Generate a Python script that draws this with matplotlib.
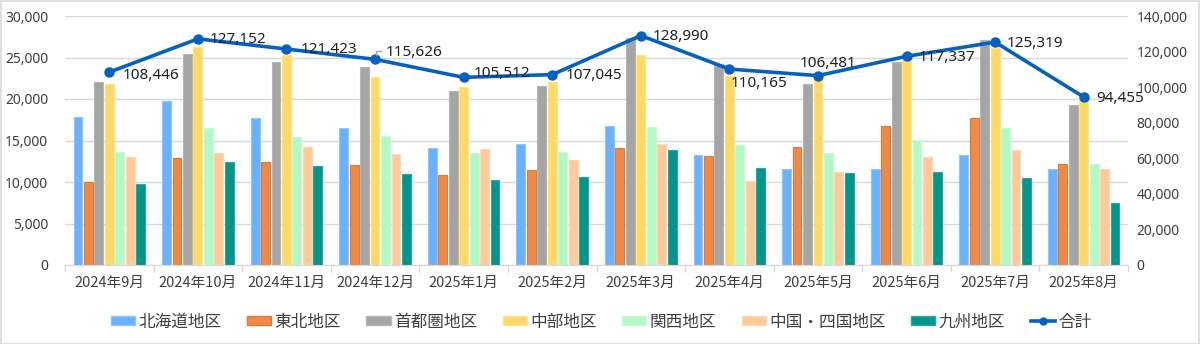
import matplotlib
matplotlib.use('Agg')
import matplotlib.pyplot as plt
import numpy as np
from matplotlib.ticker import FuncFormatter, FixedLocator
from matplotlib.patches import Patch, Rectangle
from matplotlib.lines import Line2D

months = ['2024年9月', '2024年10月', '2024年11月', '2024年12月', '2025年1月', '2025年2月',
          '2025年3月', '2025年4月', '2025年5月', '2025年6月', '2025年7月', '2025年8月']
series_names = ['北海道地区', '東北地区', '首都圏地区', '中部地区', '関西地区', '中国・四国地区', '九州地区']
total_name = '合計'

hokkaido = [17800, 19800, 17750, 16500, 14100, 14600, 16750, 13300, 11600, 11600, 13250, 11600]
tohoku   = [10000, 12900, 12450, 12100, 10800, 11500, 14100, 13150, 14250, 16750, 17750, 12200]
shutoken = [22100, 25450, 24400, 23900, 20950, 21550, 27350, 24200, 21750, 24500, 27150, 19250]
chubu    = [21850, 26300, 25350, 22700, 21500, 22050, 25250, 22750, 22600, 24900, 26100, 20050]
kansai   = [13650, 16450, 15400, 15600, 13500, 13600, 16650, 14500, 13500, 15100, 16450, 12200]
chushi   = [13000, 13550, 14200, 13400, 14000, 12700, 14600, 10150, 11250, 13000, 13850, 11600]
kyushu   = [9700, 12350, 11950, 11000, 10300, 10650, 13800, 11700, 11100, 11200, 10500, 7450]
totals   = [108446, 127152, 121423, 115626, 105512, 107045, 128990, 110165, 106481, 117337, 125319, 94455]

colors = ['#6AB2FF', '#EE8A45', '#A5A5A5', '#FFD966', '#B2F9C3', '#FFCA99', '#00968C']
edge_colors = ['#8EC5FF', '#E27A30', '#B5B5B5', '#FFE38A', '#C6FBD3', '#FFD7B3', '#2AA89F']
line_color = '#0660C0'

plt.rcParams['font.family'] = ['Noto Sans CJK JP', 'DejaVu Sans']

W, H = 1200, 344
fig = plt.figure(figsize=(W / 100, H / 100), dpi=100)
ax = fig.add_axes([65 / W, 79 / H, 1063 / W, 249 / H])
ax2 = ax.twinx()

x = np.arange(len(months))
step = 0.118
width = 0.1
all_series = [hokkaido, tohoku, shutoken, chubu, kansai, chushi, kyushu]
for i, vals in enumerate(all_series):
    ax.bar(x + (i - 3) * step, vals, width, color=colors[i], edgecolor=edge_colors[i],
           linewidth=0.8, zorder=2)

ax.set_xlim(-0.5, len(months) - 0.5)
ax.set_ylim(0, 30000)
ax.set_yticks(range(0, 30001, 5000))
fmt = FuncFormatter(lambda v, p: f'{int(v):,}')
ax.yaxis.set_major_formatter(fmt)
ax.grid(axis='y', color='#D9D9D9', lw=1, zorder=0)
ax.set_axisbelow(True)
ax.set_xticks(x)
ax.set_xticklabels(months)
ax.xaxis.set_minor_locator(FixedLocator(np.arange(-0.5, len(months), 1.0)))
ax.tick_params(axis='x', which='major', length=0, pad=8, labelsize=10.5, labelcolor='#404040')
ax.tick_params(axis='x', which='minor', length=5, color='#D9D9D9', width=1)
ax.tick_params(axis='y', length=0, pad=12, labelsize=10, labelcolor='#404040')
for s in ['top', 'left', 'right']:
    ax.spines[s].set_visible(False)
ax.spines['bottom'].set_color('#D9D9D9')

ax2.plot(x, totals, color=line_color, lw=2.6, marker='o', ms=6.5, zorder=5)
ax2.set_ylim(0, 140000)
ax2.set_yticks(range(0, 140001, 20000))
ax2.yaxis.set_major_formatter(fmt)
ax2.tick_params(axis='y', length=0, pad=6, labelsize=10, labelcolor='#404040')
for s in ['top', 'left', 'right', 'bottom']:
    ax2.spines[s].set_visible(False)

for lab in ax.get_yticklabels() + ax2.get_yticklabels():
    lab.set_family(['Noto Sans', 'DejaVu Sans'])

# data label offsets in pixels (dx to text left, dy to text center; up positive)
offsets = [(13, -3), (12, -1), (14, 0), (11, 7), (10, 4), (13, -1),
           (12, -1), (1, -14), (-18, 12), (12, -1), (12, -1), (13, -1)]
for xi, (t, (dx, dy)) in enumerate(zip(totals, offsets)):
    ax2.annotate(f'{t:,}', (xi, t), xytext=(dx, dy), textcoords='offset pixels',
                 ha='left', va='center', fontsize=11, color='#202020',
                 family=['Noto Sans', 'DejaVu Sans'], zorder=6)

# leader line for the December label
fig.canvas.draw()
px, py = ax2.transData.transform((3, totals[3]))
pts = np.array([[px + 1, py + 4.5], [px + 1, py + 8.5], [px + 6, py + 8.5]])
fpts = fig.transFigure.inverted().transform(pts)
fig.add_artist(Line2D(fpts[:, 0], fpts[:, 1], color='#A6A6A6', lw=1, transform=fig.transFigure))

handles = [Patch(facecolor=colors[i], edgecolor=edge_colors[i], label=series_names[i])
           for i in range(len(series_names))]
handles.append(Line2D([], [], color=line_color, lw=2.6, marker='o', ms=5, label=total_name))
leg = fig.legend(handles=handles, loc='center', bbox_to_anchor=(601 / W, 22 / H), ncol=8,
                 frameon=False, fontsize=12, handlelength=1.45, handleheight=0.5,
                 handletextpad=0.2, columnspacing=1.53)
for t in leg.get_texts():
    t.set_color('#404040')

fig.add_artist(Rectangle((0.5 / W, 0.5 / H), 1 - 1.5 / W, 1 - 1.5 / H, fill=False,
                         ec='#D9D9D9', lw=1.2, transform=fig.transFigure))

fig.savefig('out.png', dpi=100)
